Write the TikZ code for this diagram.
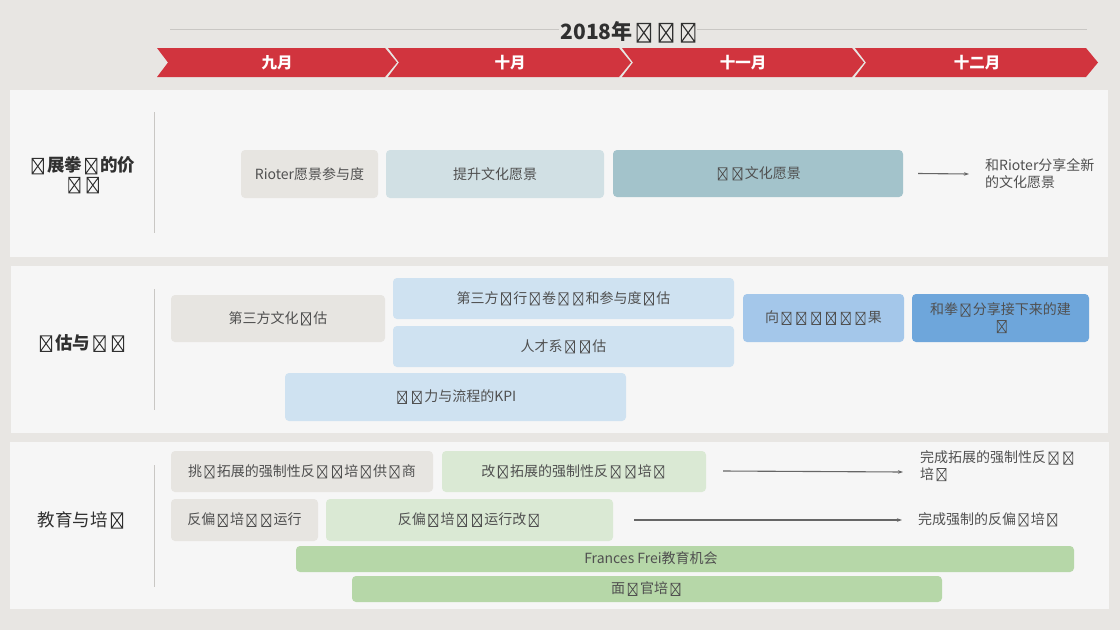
\documentclass[tikz,border=0pt]{standalone}
\usepackage{fontspec}
\setmainfont{Noto Sans CJK SC}
\usetikzlibrary{arrows.meta}
\newcommand\tf{\hspace{0.18em}\tikz[baseline=0pt]{\draw[line width=0.055em, sharp corners] (0,-0.12em) rectangle (0.64em,0.76em) (0,-0.12em) -- (0.64em,0.76em) (0,0.76em) -- (0.64em,-0.12em);}\hspace{0.18em}}
\definecolor{bg}{HTML}{E8E6E3}
\definecolor{panel}{HTML}{F6F6F6}
\definecolor{greybox}{HTML}{E7E5E1}
\definecolor{teal1}{HTML}{D1E0E4}
\definecolor{teal2}{HTML}{A3C3CB}
\definecolor{blue1}{HTML}{CFE2F1}
\definecolor{blue2}{HTML}{A4C7EA}
\definecolor{blue3}{HTML}{6EA6DB}
\definecolor{green1}{HTML}{DAE9D4}
\definecolor{green2}{HTML}{B6D7A8}
\definecolor{bandred}{HTML}{D1343E}
\definecolor{txt}{HTML}{505050}
\definecolor{lbltxt}{HTML}{303030}
\definecolor{divc}{HTML}{C9C7C4}
\definecolor{arrc}{HTML}{666666}
\begin{document}
\begin{tikzpicture}[x=1pt,y=-1pt,
  box/.style={rounded corners=4pt, inner sep=0pt, align=center, text=txt, font=\fontsize{14}{16.5}\selectfont},
  lbl/.style={text=lbltxt, font=\fontsize{17.5}{19}\selectfont\bfseries, align=center, inner sep=0pt},
  note/.style={text=txt, font=\fontsize{14}{16.5}\selectfont, align=left, anchor=west, inner sep=0pt},
  arr/.style={draw=arrc, line width=1.1pt, -{Stealth[length=5pt,width=3.5pt]}},
  divider/.style={draw=divc, line width=1pt},
  month/.style={text=white, font=\fontsize{15.5}{17}\selectfont\bfseries, inner sep=0pt}
]
\useasboundingbox (0,0) rectangle (1120,630);
\fill[bg] (0,0) rectangle (1120,630);

% title
\draw[divc, line width=0.8pt] (170,29) -- (1087,29);
\node[fill=bg, inner sep=2pt, text=lbltxt, font=\fontsize{21}{23}\selectfont\bfseries] (title) at (628,32) {2018年\tf\tf\tf};

% month band
\foreach \L/\R in {157/385, 388/619, 622/852, 855/1086}{
  \fill[bandred] (\L,48) -- (\R,48) -- (\R+12,62.5) -- (\R,77) -- (\L,77) -- (\L+11,62.5) -- cycle;
}
\node[month] (m1) at (277,63) {九月};
\node[month] (m2) at (510,63) {十月};
\node[month] (m3) at (743,63) {十一月};
\node[month] (m4) at (977,63) {十二月};

% panels
\fill[panel] (10,90) rectangle (1108,257);
\fill[panel] (11,266) rectangle (1108,433);
\fill[panel] (10,442) rectangle (1109,609);
\draw[divider] (154,112) -- (154,233);
\draw[divider] (154,289) -- (154,410);
\draw[divider] (154,465) -- (154,587);

% panel labels
\node[lbl] (l1) at (82,175) {\tf 展拳\tf 的价\\\tf\tf};
\node[lbl] (l2) at (82,343) {\tf 估与\tf\tf};
\node[lbl, font=\fontsize{17.5}{19}\selectfont] (l3) at (82,520) {教育与培\tf};

% panel 1
\node[box, fill=greybox, minimum width=137pt, minimum height=48pt] (p1a) at (309.5,174) {Rioter愿景参与度};
\node[box, fill=teal1, minimum width=218pt, minimum height=48pt] (p1b) at (495,174) {提升文化愿景};
\node[box, fill=teal2, minimum width=290pt, minimum height=47pt] (p1c) at (758,173.5) {\tf\tf 文化愿景};
\node[note] (t1) at (985,173.5) {和Rioter分享全新\\的文化愿景};
\coordinate (e1) at (969,174);
\draw[arr] ([xshift=15pt]p1c.east) -- (e1);

% panel 2
\node[box, fill=greybox, minimum width=214pt, minimum height=47pt] (p2a) at (278,318.5) {第三方文化\tf 估};
\node[box, fill=blue1, minimum width=341pt, minimum height=41pt] (p2b) at (563.5,298.5) {第三方\tf 行\tf 卷\tf\tf 和参与度\tf 估};
\node[box, fill=blue1, minimum width=341pt, minimum height=41pt] (p2c) at (563.5,346.5) {人才系\tf\tf 估};
\node[box, fill=blue1, minimum width=341pt, minimum height=48pt] (p2d) at (455.5,397) {\tf\tf 力与流程的KPI};
\node[box, fill=blue2, minimum width=161pt, minimum height=48pt] (p2e) at (823.5,318) {向\tf\tf\tf\tf\tf\tf 果};
\node[box, fill=blue3, minimum width=177pt, minimum height=48pt] (p2f) at (1000.5,318) {和拳\tf 分享接下来的建\\\tf};

% panel 3
\node[box, fill=greybox, minimum width=262pt, minimum height=41pt] (p3a) at (302,471.5) {挑\tf 拓展的强制性反\tf\tf 培\tf 供\tf 商};
\node[box, fill=green1, minimum width=264pt, minimum height=41pt] (p3b) at (574,471.5) {改\tf 拓展的强制性反\tf\tf 培\tf};
\node[note] (t3a) at (920,466) {完成拓展的强制性反\tf\tf\\培\tf};
\coordinate (e3) at (903,472);
\draw[arr] ([xshift=17pt,yshift=0.5pt]p3b.east) -- (e3);
\node[box, fill=greybox, minimum width=147pt, minimum height=42pt] (p3c) at (244.5,520) {反偏\tf 培\tf\tf 运行};
\node[box, fill=green1, minimum width=287pt, minimum height=42pt] (p3d) at (469.5,520) {反偏\tf 培\tf\tf 运行改\tf};
\node[note] (t3b) at (918,519.5) {完成强制的反偏\tf 培\tf};
\coordinate (e4) at (902,520);
\draw[arr] ([xshift=21pt]p3d.east) -- (e4);
\node[box, fill=green2, minimum width=778pt, minimum height=26pt] (p3e) at (685,559) {};
\node[box] (p3et) at (651,558.5) {Frances Frei教育机会};
\node[box, fill=green2, minimum width=590pt, minimum height=26pt] (p3f) at (647,589) {面\tf 官培\tf};
\end{tikzpicture}
\end{document}
